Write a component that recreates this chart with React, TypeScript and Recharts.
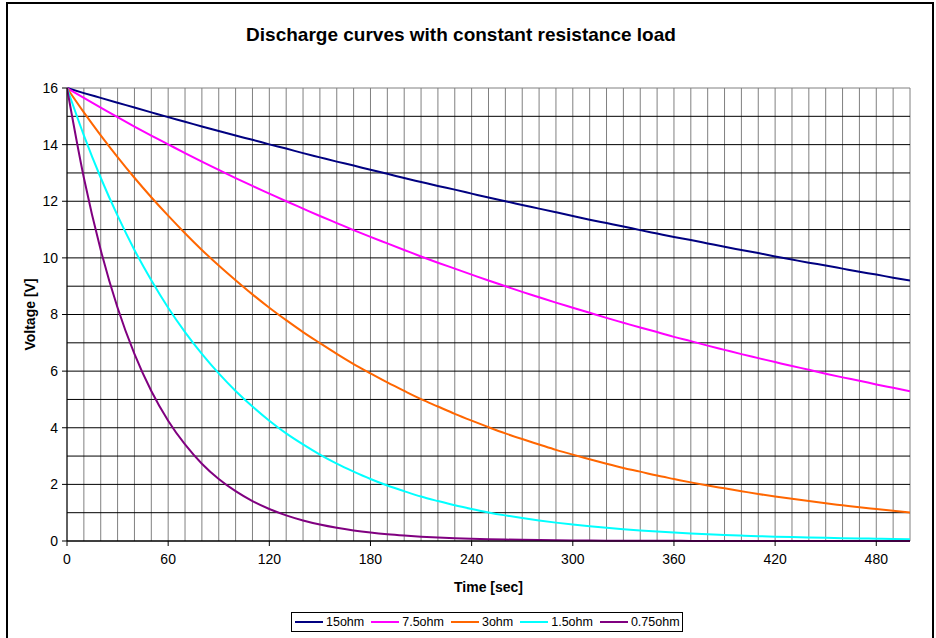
import React from "react";
import {
  LineChart,
  Line,
  XAxis,
  YAxis,
  CartesianGrid,
  Legend,
  ReferenceLine,
  Label,
} from "recharts";

const time = [
  0, 10, 20, 30, 40, 50, 60, 70, 80, 90, 100, 110, 120, 130, 140, 150, 160, 170,
  180, 190, 200, 210, 220, 230, 240, 250, 260, 270, 280, 290, 300, 310, 320, 330,
  340, 350, 360, 370, 380, 390, 400, 410, 420, 430, 440, 450, 460, 470, 480, 490,
  500,
];

const ohm15 = [
  16.0, 15.82, 15.65, 15.48, 15.31, 15.14, 14.97, 14.81, 14.64, 14.48, 14.32,
  14.17, 14.01, 13.86, 13.7, 13.55, 13.4, 13.26, 13.11, 12.97, 12.82, 12.68,
  12.54, 12.41, 12.27, 12.13, 12.0, 11.87, 11.74, 11.61, 11.48, 11.35, 11.23,
  11.11, 10.98, 10.86, 10.74, 10.63, 10.51, 10.39, 10.28, 10.17, 10.05, 9.94,
  9.83, 9.73, 9.62, 9.51, 9.41, 9.3, 9.2,
];

const ohm7_5 = [
  16.0, 15.65, 15.31, 14.97, 14.64, 14.32, 14.01, 13.7, 13.4, 13.11, 12.82,
  12.54, 12.27, 12.0, 11.74, 11.48, 11.23, 10.98, 10.74, 10.51, 10.28, 10.05,
  9.83, 9.62, 9.41, 9.2, 9.0, 8.8, 8.61, 8.42, 8.24, 8.06, 7.88, 7.71, 7.54,
  7.38, 7.21, 7.06, 6.9, 6.75, 6.6, 6.46, 6.32, 6.18, 6.05, 5.91, 5.78, 5.66,
  5.53, 5.41, 5.29,
];

const ohm3 = [
  16.0, 15.14, 14.33, 13.56, 12.83, 12.14, 11.49, 10.87, 10.28, 9.73, 9.21,
  8.71, 8.24, 7.8, 7.38, 6.99, 6.61, 6.25, 5.92, 5.6, 5.3, 5.01, 4.75, 4.49,
  4.25, 4.02, 3.8, 3.6, 3.41, 3.22, 3.05, 2.89, 2.73, 2.58, 2.45, 2.31, 2.19,
  2.07, 1.96, 1.86, 1.76, 1.66, 1.57, 1.49, 1.41, 1.33, 1.26, 1.19, 1.13, 1.07,
  1.01,
];

const ohm1_5 = [
  16.0, 14.33, 12.83, 11.49, 10.28, 9.21, 8.24, 7.38, 6.61, 5.92, 5.3, 4.75,
  4.25, 3.8, 3.41, 3.05, 2.73, 2.45, 2.19, 1.96, 1.76, 1.57, 1.41, 1.26, 1.13,
  1.01, 0.905, 0.81, 0.725, 0.649, 0.581, 0.521, 0.466, 0.417, 0.374, 0.335,
  0.3, 0.268, 0.24, 0.215, 0.193, 0.172, 0.154, 0.138, 0.124, 0.111, 0.099,
  0.089, 0.08, 0.071, 0.064,
];

const ohm0_75 = [
  16.0, 12.83, 10.28, 8.24, 6.61, 5.3, 4.25, 3.41, 2.73, 2.19, 1.76, 1.41,
  1.13, 0.905, 0.725, 0.581, 0.466, 0.374, 0.3, 0.24, 0.193, 0.154, 0.124,
  0.099, 0.08, 0.064, 0.051, 0.041, 0.033, 0.026, 0.021, 0.017, 0.013, 0.011,
  0.009, 0.007, 0.006, 0.004, 0.004, 0.003, 0.002, 0.002, 0.001, 0.001, 0.001,
  0.001, 0.001, 0.001, 0.001, 0.001, 0.001,
];

const xTicks = [0, 60, 120, 180, 240, 300, 360, 420, 480];
const yTicks = [0, 2, 4, 6, 8, 10, 12, 14, 16];
const xGrid = [
  0, 10, 20, 30, 40, 50, 60, 70, 80, 90, 100, 110, 120, 130, 140, 150, 160, 170,
  180, 190, 200, 210, 220, 230, 240, 250, 260, 270, 280, 290, 300, 310, 320, 330,
  340, 350, 360, 370, 380, 390, 400, 410, 420, 430, 440, 450, 460, 470, 480, 490,
  500,
];
const yGrid = [0, 1, 2, 3, 4, 5, 6, 7, 8, 9, 10, 11, 12, 13, 14, 15];

const seriesList = [
  { key: "15ohm", values: ohm15, color: "#000080" },
  { key: "7.5ohm", values: ohm7_5, color: "#FF00FF" },
  { key: "3ohm", values: ohm3, color: "#FF6600" },
  { key: "1.5ohm", values: ohm1_5, color: "#00FFFF" },
  { key: "0.75ohm", values: ohm0_75, color: "#800080" },
];

const data = time.map((t, i) => {
  const row: Record<string, number> = { t };
  seriesList.forEach((s) => {
    row[s.key] = s.values[i];
  });
  return row;
});

const font = "Arial, 'Liberation Sans', sans-serif";

function YTitle(props: any) {
  const { viewBox } = props;
  const cx = 30;
  const cy = viewBox.y + viewBox.height / 2;
  return (
    <text
      x={cx}
      y={cy}
      transform={`rotate(-90 ${cx} ${cy})`}
      textAnchor="middle"
      dominantBaseline="central"
      fontFamily={font}
      fontWeight="bold"
      fontSize={14}
      fill="#000"
    >
      Voltage [V]
    </text>
  );
}

function XTitle(props: any) {
  const { viewBox } = props;
  return (
    <text
      x={viewBox.x + viewBox.width / 2}
      y={587}
      textAnchor="middle"
      dominantBaseline="central"
      fontFamily={font}
      fontWeight="bold"
      fontSize={14}
      fill="#000"
    >
      Time [sec]
    </text>
  );
}

function LegendBox(props: any) {
  const payload: any[] = props.payload || [];
  // keep the series order of the source, not alphabetical
  const ordered = seriesList
    .map((s) => payload.find((p) => p.value === s.key) || { value: s.key, color: s.color });
  return (
    <div
      style={{
        display: "flex",
        alignItems: "center",
        border: "1px solid #000",
        background: "#fff",
        padding: "2px 2px 2px 3px",
        fontFamily: font,
        fontSize: 12.5,
        whiteSpace: "nowrap",
      }}
    >
      {ordered.map((p: any, i: number) => (
        <span
          key={p.value}
          style={{
            display: "flex",
            alignItems: "center",
            marginRight: i === ordered.length - 1 ? 0 : 7,
          }}
        >
          <span
            style={{
              display: "inline-block",
              width: 28,
              height: 2,
              background: p.color,
              marginRight: 3,
            }}
          />
          <span>{p.value}</span>
        </span>
      ))}
    </div>
  );
}

export default function App() {
  return (
    <div
      style={{
        position: "absolute",
        left: 0,
        top: 0,
        width: 936,
        height: 638,
        overflow: "hidden",
        background: "#fff",
      }}
    >
      <div
        style={{
          position: "absolute",
          left: 6,
          top: 2,
          width: 924,
          height: 700,
          border: "2px solid #000",
        }}
      />
      <div
        style={{
          position: "absolute",
          left: 0,
          top: 24,
          width: 936,
          paddingRight: 14,
          boxSizing: "border-box",
          textAlign: "center",
          fontFamily: font,
          fontWeight: "bold",
          fontSize: 19,
          color: "#000",
        }}
      >
        Discharge curves with constant resistance load
      </div>
      <div style={{ position: "absolute", left: 0, top: 0 }}>
        <LineChart
          width={936}
          height={638}
          data={data}
          margin={{ top: 88, right: 26, left: 6, bottom: 67 }}
        >
          <CartesianGrid
            horizontal={false}
            vertical={true}
            verticalValues={xGrid}
            stroke="#808080"
            strokeWidth={1}
          />
          <CartesianGrid
            horizontal={true}
            vertical={false}
            horizontalValues={yGrid}
            stroke="#000"
            strokeWidth={1}
          />
          <ReferenceLine y={16} stroke="#808080" strokeWidth={1} />
          <XAxis
            dataKey="t"
            type="number"
            domain={[0, 500]}
            ticks={xTicks}
            interval={0}
            allowDataOverflow
            height={30}
            axisLine={{ stroke: "#000" }}
            tickLine={{ stroke: "#000" }}
            tickSize={5}
            tickMargin={8}
            tick={{ fill: "#000", fontSize: 14, fontFamily: font }}
          >
            <Label content={XTitle} />
          </XAxis>
          <YAxis
            type="number"
            domain={[0, 16]}
            ticks={yTicks}
            interval={0}
            width={61}
            axisLine={{ stroke: "#000" }}
            tickLine={{ stroke: "#000" }}
            tickSize={5}
            tickMargin={4}
            tick={{ fill: "#000", fontSize: 14, fontFamily: font }}
          >
            <Label content={YTitle} />
          </YAxis>
          <Legend
            layout="vertical"
            align="center"
            verticalAlign="middle"
            content={LegendBox}
            wrapperStyle={{ left: 291, top: 612, width: "auto", height: "auto" }}
          />
          {seriesList.map((s) => (
            <Line
              key={s.key}
              type="monotone"
              dataKey={s.key}
              name={s.key}
              stroke={s.color}
              strokeWidth={2}
              dot={false}
              activeDot={false}
              isAnimationActive={false}
            />
          ))}
        </LineChart>
      </div>
    </div>
  );
}
